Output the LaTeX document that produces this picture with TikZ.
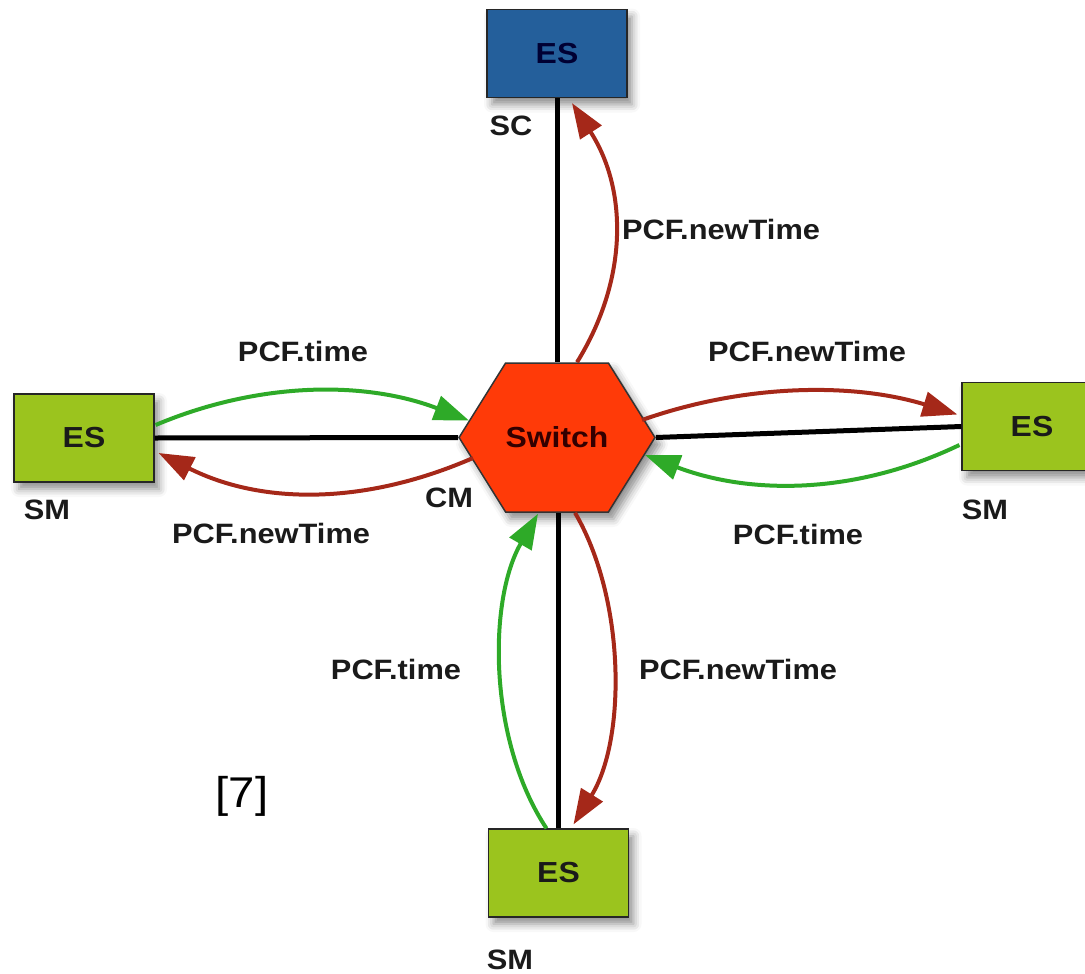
\documentclass[tikz,border=0pt]{standalone}
\usepackage{fontspec}
\setmainfont{Liberation Sans}[FakeStretch=1.1]
\usetikzlibrary{arrows.meta,shapes.symbols,shadows.blur,calc}
\definecolor{esblue}{HTML}{245F9B}
\definecolor{esgreen}{HTML}{9BC41E}
\definecolor{swred}{HTML}{FF3A08}
\definecolor{msggreen}{HTML}{2EAA28}
\definecolor{msgred}{HTML}{A52819}
\definecolor{inkdark}{HTML}{1A1A1A}
\begin{document}
\begin{tikzpicture}[x=1bp,y=-1bp,
  lbl/.style={font=\fontsize{28bp}{30bp}\selectfont\bfseries,text=inkdark,inner sep=0},
  softshadow/.style={blur shadow={shadow xshift=5bp,shadow yshift=-7bp,shadow blur radius=8bp,shadow opacity=45}},
  esbox/.style={draw=black!85,line width=1.2bp,minimum width=140bp,minimum height=88bp,
    inner sep=0,font=\fontsize{29bp}{30bp}\selectfont\bfseries,softshadow},
  hexnode/.style={shape=signal,signal to=east and west,signal pointer angle=116,
    draw=black!80,line width=1.5bp,fill=swred,minimum width=190bp,minimum height=149bp,
    inner sep=0,font=\fontsize{29bp}{30bp}\selectfont\bfseries,text=black!80!red,softshadow},
  link/.style={line width=5bp,black},
  msg/.style={line width=4bp,-{Triangle[length=35bp,width=25bp]}},
  tmsg/.style={msg,msggreen},
  nmsg/.style={msg,msgred}]
\useasboundingbox (0,0) rectangle (1085,974);
\clip (0,0) rectangle (1085,974);

% end systems and the central switch
\node[esbox,fill=esblue,text=black!80!blue] (top) at (557,53.5) {ES};
\node[esbox,fill=esgreen,text=inkdark] (left) at (84,438) {ES};
\node[esbox,fill=esgreen,text=inkdark] (right) at (1032,426.5) {ES};
\node[esbox,fill=esgreen,text=inkdark] (bottom) at (558.5,873) {ES};
\node[hexnode] (sw) at (557,437.5) {Switch};

% physical links
\draw[link] (top.south) -- (top.south |- sw.north);
\draw[link] (left.east) -- (sw.west);
\draw[link] (sw.east) -- (right.west);
\draw[link] (bottom.north |- sw.south) -- (bottom.north);

% role labels
\node[lbl] (sc) at (511,126) {SC};
\node[lbl] (smL) at (47,510) {SM};
\node[lbl] (smR) at (985,510) {SM};
\node[lbl] (smB) at (510,960) {SM};
\node[lbl] (cm) at (449,498) {CM};

% clock synchronisation frames
\draw[nmsg] ($(sw.north)+(20,0)$) .. controls (628,280) and (628,190) .. ($(top.south)+(15,5)$);
\draw[tmsg] ($(bottom.north)+(-12,0)$) .. controls (488,740) and (488,600) .. ($(sw.south)+(-19,1)$);
\draw[nmsg] ($(sw.south)+(18,0)$) .. controls (626,600) and (626,740) .. ($(bottom.north)+(15,-4)$);
\draw[tmsg] ($(left.east)+(1,-13)$) .. controls (260,381) and (366,381) .. ($(sw.center)+(-88,-17)$);
\draw[nmsg] ($(sw.center)+(-84,20.5)$) .. controls (365,505) and (262,505) .. ($(left.east)+(4,15)$);
\draw[nmsg] ($(sw.center)+(85,-17.5)$) .. controls (747,383) and (855,383) .. ($(right.west)+(-4,-12)$);
\draw[tmsg] ($(right.west)+(-2,18.5)$) .. controls (855,495) and (750,495) .. ($(sw.center)+(88,17.5)$);

% frame labels
\node[lbl] (lt) at (721,229) {PCF.newTime};
\node[lbl] (ll1) at (303,351) {PCF.time};
\node[lbl] (ll2) at (271,533) {PCF.newTime};
\node[lbl] (lr1) at (807,351) {PCF.newTime};
\node[lbl] (lr2) at (798,534) {PCF.time};
\node[lbl] (lb1) at (396,669) {PCF.time};
\node[lbl] (lb2) at (738,669) {PCF.newTime};

% reference mark
\node[font=\fontsize{43bp}{46bp}\selectfont,inner sep=0] (ref) at (242,796) {[7]};
\end{tikzpicture}
\end{document}
